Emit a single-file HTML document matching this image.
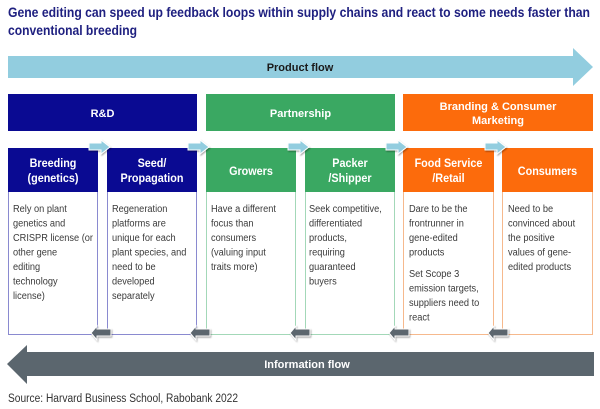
<!DOCTYPE html>
<html><head><meta charset="utf-8"><style>
html,body{margin:0;padding:0;background:#fff;}
svg{display:block;}
text{font-family:"Liberation Sans",sans-serif;}
.t{font-weight:bold;font-size:14px;fill:#1f2080;}
.h{font-weight:bold;font-size:11px;fill:#fff;}
.hh{font-weight:bold;font-size:12px;fill:#fff;}
.b{font-size:10.5px;fill:#3a3a3a;}
</style></head><body>
<svg width="600" height="409" viewBox="0 0 600 409" xmlns="http://www.w3.org/2000/svg">
<defs>
<filter id="sh" x="-30%" y="-30%" width="160%" height="170%"><feDropShadow dx="0.8" dy="1.2" stdDeviation="0.9" flood-color="#000" flood-opacity="0.35"/></filter>
</defs>
<text class="t" x="8" y="17" textLength="582" lengthAdjust="spacingAndGlyphs">Gene editing can speed up feedback loops within supply chains and react to some needs faster than</text>
<text class="t" x="8" y="35" textLength="129" lengthAdjust="spacingAndGlyphs">conventional breeding</text>

<!-- product flow -->
<polygon points="8,56 573,56 573,48 593,67 573,86 573,78 8,78" fill="#92cddf"/>
<text x="300" y="71" text-anchor="middle" font-weight="bold" font-size="11" fill="#1a1a1a">Product flow</text>

<!-- category bars -->
<rect x="8" y="94" width="189" height="37" fill="#0a0a92"/>
<text class="h" x="102.5" y="117" text-anchor="middle">R&amp;D</text>
<rect x="206" y="94" width="189" height="37" fill="#3aa862"/>
<text class="h" x="300.5" y="117" text-anchor="middle">Partnership</text>
<rect x="403" y="94" width="190" height="37" fill="#fc6b0c"/>
<text class="h" x="498" y="110" text-anchor="middle">Branding &amp; Consumer</text>
<text class="h" x="498" y="124" text-anchor="middle">Marketing</text>

<!-- boxes -->
<rect x="8.5" y="148.5" width="89" height="186" fill="#fff" stroke="#8a8ad0" stroke-width="1"/>
<rect x="8" y="148" width="90" height="44" fill="#0a0a92"/>
<rect x="107.5" y="148.5" width="89" height="186" fill="#fff" stroke="#8a8ad0" stroke-width="1"/>
<rect x="107" y="148" width="90" height="44" fill="#0a0a92"/>
<rect x="206.5" y="148.5" width="89" height="186" fill="#fff" stroke="#a3d8b8" stroke-width="1"/>
<rect x="206" y="148" width="90" height="44" fill="#3aa862"/>
<rect x="305.5" y="148.5" width="89" height="186" fill="#fff" stroke="#a3d8b8" stroke-width="1"/>
<rect x="305" y="148" width="90" height="44" fill="#3aa862"/>
<rect x="403.5" y="148.5" width="90" height="186" fill="#fff" stroke="#f6b98d" stroke-width="1"/>
<rect x="403" y="148" width="91" height="44" fill="#fc6b0c"/>
<rect x="502.5" y="148.5" width="90" height="186" fill="#fff" stroke="#f6b98d" stroke-width="1"/>
<rect x="502" y="148" width="91" height="44" fill="#fc6b0c"/>

<!-- headers -->
<g transform="scale(0.9,1)">
<text class="hh" x="58.89" y="167" text-anchor="middle">Breeding</text>
<text class="hh" x="58.89" y="182" text-anchor="middle">(genetics)</text>
<text class="hh" x="168.89" y="167" text-anchor="middle">Seed/</text>
<text class="hh" x="168.89" y="182" text-anchor="middle">Propagation</text>
<text class="hh" x="278.89" y="175" text-anchor="middle">Growers</text>
<text class="hh" x="388.89" y="167" text-anchor="middle">Packer</text>
<text class="hh" x="388.89" y="182" text-anchor="middle">/Shipper</text>
<text class="hh" x="498.33" y="167" text-anchor="middle">Food Service</text>
<text class="hh" x="498.33" y="182" text-anchor="middle">/Retail</text>
<text class="hh" x="608.33" y="175" text-anchor="middle">Consumers</text>
</g>

<!-- body texts -->
<g class="b" transform="scale(0.88,1)">
<text x="14.77" y="212">Rely on plant</text>
<text x="14.77" y="226.5">genetics and</text>
<text x="14.77" y="241">CRISPR license (or</text>
<text x="14.77" y="255.5">other gene</text>
<text x="14.77" y="270">editing</text>
<text x="14.77" y="284.5">technology</text>
<text x="14.77" y="299">license)</text>

<text x="127.27" y="212">Regeneration</text>
<text x="127.27" y="226.5">platforms are</text>
<text x="127.27" y="241">unique for each</text>
<text x="127.27" y="255.5">plant species, and</text>
<text x="127.27" y="270">need to be</text>
<text x="127.27" y="284.5">developed</text>
<text x="127.27" y="299">separately</text>

<text x="239.77" y="212">Have a different</text>
<text x="239.77" y="226.5">focus than</text>
<text x="239.77" y="241">consumers</text>
<text x="239.77" y="255.5">(valuing input</text>
<text x="239.77" y="270">traits more)</text>

<text x="351.14" y="212">Seek competitive,</text>
<text x="351.14" y="226.5">differentiated</text>
<text x="351.14" y="241">products,</text>
<text x="351.14" y="255.5">requiring</text>
<text x="351.14" y="270">guaranteed</text>
<text x="351.14" y="284.5">buyers</text>

<text x="464.77" y="212">Dare to be the</text>
<text x="464.77" y="226.5">frontrunner in</text>
<text x="464.77" y="241">gene-edited</text>
<text x="464.77" y="255.5">products</text>
<text x="464.77" y="277">Set Scope 3</text>
<text x="464.77" y="291.5">emission targets,</text>
<text x="464.77" y="306">suppliers need to</text>
<text x="464.77" y="320.5">react</text>

<text x="577.27" y="212">Need to be</text>
<text x="577.27" y="226.5">convinced about</text>
<text x="577.27" y="241">the positive</text>
<text x="577.27" y="255.5">values of gene-</text>
<text x="577.27" y="270">edited products</text>
</g>

<!-- small light-blue arrows (top) -->
<g fill="#92cddf" stroke="#fff" stroke-width="1" filter="url(#sh)">
<polygon points="89,143 101,143 101,140 110,147 101,154 101,150 89,150"/>
<polygon points="188,143 200,143 200,140 209,147 200,154 200,150 188,150"/>
<polygon points="288,143 300,143 300,140 309,147 300,154 300,150 288,150"/>
<polygon points="386,143 398,143 398,140 407,147 398,154 398,150 386,150"/>
<polygon points="485,143 497,143 497,140 506,147 497,154 497,150 485,150"/>
</g>

<!-- small gray arrows (bottom) -->
<g fill="#5b666e" stroke="#fff" stroke-width="1" filter="url(#sh)">
<polygon points="91,333 97,326 97,329 111,329 111,336 97,336 97,340"/>
<polygon points="190,333 196,326 196,329 210,329 210,336 196,336 196,340"/>
<polygon points="290,333 296,326 296,329 310,329 310,336 296,336 296,340"/>
<polygon points="389,333 395,326 395,329 409,329 409,336 395,336 395,340"/>
<polygon points="488,333 494,326 494,329 508,329 508,336 494,336 494,340"/>
</g>

<!-- information flow -->
<polygon points="7,364 27,345 27,352 594,352 594,376 27,376 27,384" fill="#5b666e"/>
<text x="307" y="368" text-anchor="middle" font-weight="bold" font-size="11" fill="#fff">Information flow</text>

<text x="8" y="402" font-size="11.5" fill="#333" textLength="230" lengthAdjust="spacingAndGlyphs">Source: Harvard Business School, Rabobank 2022</text>
</svg>
</body></html>
